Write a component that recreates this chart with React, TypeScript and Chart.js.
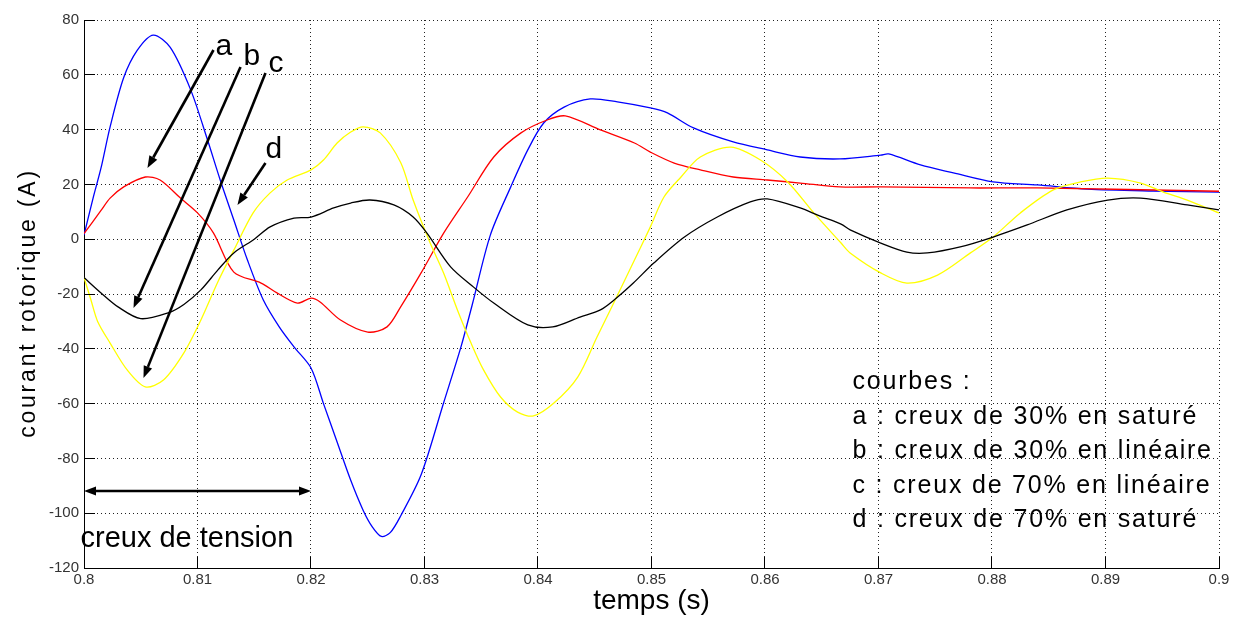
import React, { useEffect, useRef } from 'react';
import { Chart, registerables } from 'chart.js';

Chart.register(...registerables);

// ---- data: time (s) and rotor current (A) for each curve ----
// d : creux de 70% en saturé (blue)
const blueT = [0.8, 0.8008, 0.8015, 0.8023, 0.8035, 0.8047, 0.8061, 0.8076, 0.8094, 0.8109, 0.812, 0.8132, 0.8144, 0.8158, 0.8172, 0.8185, 0.82,
  0.8211, 0.8223, 0.8235, 0.8246, 0.8254, 0.8262, 0.827, 0.8279, 0.8297, 0.8317, 0.8332, 0.8342, 0.8358, 0.8376, 0.8391,
  0.8405, 0.8423, 0.8446, 0.847, 0.8499, 0.8514, 0.8537, 0.8572, 0.8602, 0.8631, 0.8666, 0.8702, 0.8709, 0.8737, 0.8766,
  0.8801, 0.884, 0.8884, 0.8942, 0.9];
const blueI = [1.5, 15, 26, 41, 59, 69, 74.5, 70, 54.5, 36, 21.6, 7, -7.6, -22.2, -32, -39.3, -47,
  -60, -74, -88, -99, -105, -108.5, -107, -101, -86, -59.5, -39.5, -24, 1.5, 19.1, 32.6,
  42.4, 48.2, 51.2, 50.1, 47.9, 46.1, 40.6, 35.5, 32.6, 30, 29.3, 30.7, 31.1, 27.1, 24.2,
  20.9, 19.8, 18.3, 17.6, 17.2];

// a : creux de 30% en saturé (red)
const redT = [0.8, 0.8015, 0.8023, 0.8035, 0.8054, 0.8067, 0.8085, 0.81, 0.8114, 0.8132, 0.8156, 0.817, 0.8188, 0.82, 0.8208,
  0.8226, 0.825, 0.8267, 0.8279, 0.8297, 0.8317, 0.8338, 0.8361, 0.8385, 0.8408, 0.8424, 0.8455, 0.8485, 0.8499, 0.852,
  0.8543, 0.8572, 0.8602, 0.8631, 0.8666, 0.8702, 0.8781, 0.884, 0.9];
const redI = [2, 10.5, 15, 19.1, 22.7, 21.6, 15, 9.6, 2.3, -12, -16, -19.6, -23.3, -21.5, -22.9,
  -29.5, -33.9, -32, -24.7, -12.3, 2.3, 15.4, 30, 38.8, 43.5, 45, 39.9, 35.1, 31.8, 27.8,
  25.3, 22.7, 21.6, 20.5, 19.1, 19.1, 18.7, 18.7, 17.5];

// c : creux de 70% en linéaire (yellow)
const yellowT = [0.8, 0.8006, 0.8012, 0.8023, 0.8038, 0.8054, 0.807, 0.8088, 0.8103, 0.8118, 0.8132, 0.8149, 0.8164, 0.8179, 0.82,
  0.8211, 0.8223, 0.8235, 0.8246, 0.8261, 0.8279, 0.829, 0.8305, 0.8317, 0.8329, 0.8341, 0.8352, 0.8367, 0.8382, 0.8396,
  0.8414, 0.8435, 0.8452, 0.8468, 0.8485, 0.8499, 0.8511, 0.8526, 0.8543, 0.857, 0.8596, 0.862, 0.8643, 0.8667, 0.8675,
  0.8702, 0.8725, 0.8752, 0.8781, 0.8801, 0.8825, 0.8854, 0.8878, 0.8902, 0.8931, 0.8951, 0.8972, 0.9];
const yellowI = [-14, -22, -30, -37.9, -47.7, -53.9, -51.4, -41.5, -29.5, -15.5, -4, 9.6, 16.9, 21.6, 25.3,
  28.9, 35.1, 39.1, 41, 38.8, 28, 14.3, -1.4, -12.5, -25.8, -37.9, -47.7, -57.6, -63.1, -64.5,
  -59.8, -50.3, -35.7, -22.2, -7.6, 4.5, 15.4, 22.7, 30, 33.6, 28.9, 20.9, 9.6, -1.4, -5,
  -12.3, -16, -13.1, -5, 0.8, 9.6, 18, 20.9, 22.3, 20.5, 17.2, 14.3, 9.6];

// b : creux de 30% en linéaire (black)
const blackT = [0.8, 0.8015, 0.803, 0.805, 0.8074, 0.8088, 0.8103, 0.8118, 0.8132, 0.815, 0.8164, 0.8185, 0.82, 0.822, 0.8235,
  0.8252, 0.8273, 0.829, 0.8302, 0.8323, 0.8343, 0.8361, 0.8391, 0.8413, 0.8437, 0.8455, 0.8467, 0.8484, 0.8502, 0.8529,
  0.8558, 0.8587, 0.8602, 0.8631, 0.8648, 0.8667, 0.8675, 0.8702, 0.8725, 0.8743, 0.8772, 0.8801, 0.8831, 0.8866, 0.8902,
  0.8931, 0.8972, 0.9];
const blackI = [-14, -19.6, -24.7, -29, -26.9, -23.8, -18.5, -11.2, -5, 0, 4.5, 7.7, 8.1, 11.4, 13.2,
  14.3, 12.5, 8.1, 2.3, -10.1, -17.4, -23.3, -31.3, -32, -28.4, -25.8, -22.2, -16, -8.7, 0.8,
  8.1, 13.6, 14.7, 11.4, 8.5, 5.5, 3.4, -1.4, -4.7, -5, -2.8, 0.8, 5.2, 10.7, 14.3,
  15, 12.5, 10.7];

// ---- axes ----
const xTicks = [0.8, 0.81, 0.82, 0.83, 0.84, 0.85, 0.86, 0.87, 0.88, 0.89, 0.9];
const yTicks = [-120, -100, -80, -60, -40, -20, 0, 20, 40, 60, 80];
const xTitle = 'temps (s)';
const yTitle = 'courant rotorique (A)';

// ---- annotations (data coordinates) ----
const arrowLabels = ['a', 'b', 'c', 'd'];
const arrowFrom = [[0.81141, 69.05], [0.81379, 62.85], [0.81599, 60.66], [0.81599, 27.8]];
const arrowTo = [[0.80559, 26.0], [0.80436, -25.1], [0.80524, -50.66], [0.81352, 12.5]];
const arrowLabelAt = [[0.81159, 67.2], [0.81405, 63.6], [0.81626, 61.0], [0.81599, 29.6]];
const dipSpan = [0.8, 0.82];
const dipLevel = -91.9;
const dipText = 'creux de tension';
const dipTextAt = [0.79969, -112.3];
const legendLines = [
  'courbes :',
  'a : creux de 30% en saturé',
  'b : creux de 30% en linéaire',
  'c : creux de 70% en linéaire',
  'd : creux de 70% en saturé',
];
const legendAt = [0.86771, -54.7];

const FONT = '"Liberation Sans", Arial, Helvetica, sans-serif';

function toPts(t: number[], v: number[]) {
  return t.map((tt, i) => ({ x: tt, y: v[i] }));
}

function arrowHead(ctx: CanvasRenderingContext2D, x1: number, y1: number, x2: number, y2: number, len: number, half: number) {
  const a = Math.atan2(y2 - y1, x2 - x1);
  const bx = x2 - len * Math.cos(a);
  const by = y2 - len * Math.sin(a);
  ctx.beginPath();
  ctx.moveTo(x2, y2);
  ctx.lineTo(bx + half * Math.sin(a), by - half * Math.cos(a));
  ctx.lineTo(bx - half * Math.sin(a), by + half * Math.cos(a));
  ctx.closePath();
  ctx.fill();
  return [bx, by];
}

const align = (p: number) => Math.round(p - 0.5) + 0.5;

const annotPlugin = {
  id: 'annot',
  afterDatasetsDraw(chart: any) {
    const { ctx, chartArea: ca } = chart;
    const xs = chart.scales.x;
    const ys = chart.scales.y;
    const px = (t: number) => xs.getPixelForValue(t);
    const py = (v: number) => ys.getPixelForValue(v);
    ctx.save();
    // inner tick marks
    ctx.strokeStyle = '#000';
    ctx.lineWidth = 1;
    ctx.beginPath();
    xTicks.forEach((t) => {
      const X = align(px(t));
      ctx.moveTo(X, ca.bottom);
      ctx.lineTo(X, ca.bottom - 11);
    });
    yTicks.forEach((v) => {
      const Y = align(py(v));
      ctx.moveTo(ca.left, Y);
      ctx.lineTo(ca.left + 11, Y);
    });
    ctx.stroke();

    // arrows a-d
    ctx.strokeStyle = '#000';
    ctx.fillStyle = '#000';
    ctx.lineWidth = 2.6;
    ctx.lineCap = 'butt';
    arrowLabels.forEach((lab, i) => {
      const x1 = px(arrowFrom[i][0]);
      const y1 = py(arrowFrom[i][1]);
      const x2 = px(arrowTo[i][0]);
      const y2 = py(arrowTo[i][1]);
      const [bx, by] = arrowHead(ctx, x1, y1, x2, y2, 12, 4.5);
      ctx.beginPath();
      ctx.moveTo(x1, y1);
      ctx.lineTo(bx, by);
      ctx.stroke();
      ctx.font = `30px ${FONT}`;
      ctx.textAlign = 'left';
      ctx.textBaseline = 'alphabetic';
      ctx.fillText(lab, px(arrowLabelAt[i][0]), py(arrowLabelAt[i][1]));
    });

    // double arrow for voltage dip
    const dx1 = px(dipSpan[0]);
    const dx2 = px(dipSpan[1]);
    const dy = py(dipLevel);
    const [lb] = arrowHead(ctx, dx2, dy, dx1, dy, 12, 4.5);
    const [rb] = arrowHead(ctx, dx1, dy, dx2, dy, 12, 4.5);
    ctx.beginPath();
    ctx.moveTo(lb, dy);
    ctx.lineTo(rb, dy);
    ctx.stroke();
    ctx.font = `29px ${FONT}`;
    ctx.textAlign = 'left';
    ctx.fillText(dipText, px(dipTextAt[0]), py(dipTextAt[1]));

    // legend text block
    ctx.font = `25px ${FONT}`;
    (ctx as any).letterSpacing = '1.8px';
    const lx = px(legendAt[0]);
    const ly = py(legendAt[1]);
    legendLines.forEach((s, i) => ctx.fillText(s, lx, ly + i * 34.5));
    (ctx as any).letterSpacing = '0px';

    // y axis title
    ctx.translate(ys.left + 34.5, (ca.top + ca.bottom) / 2 + 9);
    ctx.rotate(-Math.PI / 2);
    ctx.font = `23px ${FONT}`;
    (ctx as any).letterSpacing = '2.8px';
    ctx.textAlign = 'center';
    ctx.fillText(yTitle, 0, 0);
    ctx.restore();
  },
};

export default function App() {
  const ref = useRef<HTMLCanvasElement | null>(null);
  useEffect(() => {
    if (!ref.current) return;
    const mk = (label: string, t: number[], v: number[], color: string) => ({
      label,
      data: toPts(t, v),
      borderColor: color,
      backgroundColor: color,
      borderWidth: 1.3,
      pointRadius: 0,
      fill: false,
      tension: 0.3,
    });
    const chart = new Chart(ref.current, {
      type: 'line',
      data: {
        datasets: [
          mk('b : creux de 30% en linéaire', blackT, blackI, '#000000'),
          mk('c : creux de 70% en linéaire', yellowT, yellowI, '#ffff00'),
          mk('a : creux de 30% en saturé', redT, redI, '#ff0000'),
          mk('d : creux de 70% en saturé', blueT, blueI, '#0000ff'),
        ],
      },
      options: {
        responsive: false,
        animation: false,
        layout: { padding: { left: 0, top: 20, right: 18, bottom: 0 } },
        plugins: { legend: { display: false }, tooltip: { enabled: false } },
        scales: {
          x: {
            type: 'linear',
            min: 0.8,
            max: 0.9,
            afterBuildTicks: (s: any) => { s.ticks = xTicks.map((v) => ({ value: v })); },
            afterFit: (s: any) => { s.height = 51; },
            ticks: {
              autoSkip: false,
              maxRotation: 0,
              padding: 3,
              color: '#333',
              font: { family: '"Liberation Sans Narrow", "Arial Narrow", ' + FONT, size: 15 },
              callback: (v: any) => String(v),
            },
            grid: { color: '#222', lineWidth: 1, drawTicks: false },
            border: { display: true, color: '#000', width: 1, dash: [1, 3] },
            title: { display: true, text: xTitle, color: '#000', font: { family: FONT, size: 28 }, padding: { top: 0, bottom: 1 } },
          },
          y: {
            type: 'linear',
            min: -120,
            max: 80,
            afterBuildTicks: (s: any) => { s.ticks = yTicks.map((v) => ({ value: v })); },
            afterFit: (s: any) => { s.width = 84; },
            ticks: {
              autoSkip: false,
              padding: 5,
              color: '#333',
              font: { family: '"Liberation Sans Narrow", "Arial Narrow", ' + FONT, size: 15 },
              callback: (v: any) => String(v),
            },
            grid: { color: '#222', lineWidth: 1, drawTicks: false },
            border: { display: true, color: '#000', width: 1, dash: [1, 3] },
          },
        },
      },
      plugins: [annotPlugin],
    });
    return () => chart.destroy();
  }, []);
  return (
    <div style={{ position: 'absolute', left: 0, top: 0, width: 1237, height: 619, background: '#fff' }}>
      <canvas ref={ref} width={1237} height={619} style={{ display: 'block' }} />
    </div>
  );
}
